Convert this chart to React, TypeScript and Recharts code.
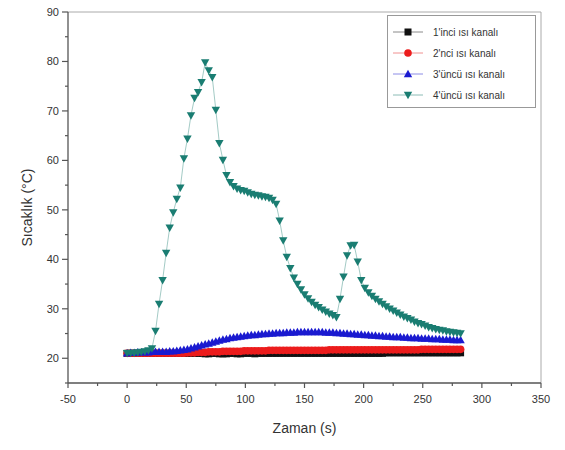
import { LineChart, Line, XAxis, YAxis, Legend, ReferenceLine } from "recharts";

// sampling instants (s)
const TIME = [
  0, 3, 6, 9, 12, 15, 18, 21, 24, 27,
  30, 33, 36, 39, 42, 45, 48, 51, 54, 57,
  60, 63, 66, 69, 72, 75, 78, 81, 84, 87,
  90, 93, 96, 99, 102, 105, 108, 111, 114, 117,
  120, 123, 126, 129, 132, 135, 138, 141, 144, 147,
  150, 153, 156, 159, 162, 165, 168, 171, 174, 177,
  180, 183, 186, 189, 192, 195, 198, 201, 204, 207,
  210, 213, 216, 219, 222, 225, 228, 231, 234, 237,
  240, 243, 246, 249, 252, 255, 258, 261, 264, 267,
  270, 273, 276, 279, 282,
];

// channel temperatures (°C)
const CH1 = [
  21.0, 21.0, 21.0, 21.0, 21.0, 21.0, 21.0, 21.0, 21.0, 21.0,
  21.0, 21.0, 21.0, 21.0, 21.0, 21.0, 21.0, 21.0, 21.0, 21.0,
  21.0, 21.0, 20.9, 20.9, 21.0, 21.0, 20.9, 20.9, 20.9, 21.0,
  21.0, 20.9, 20.9, 21.0, 21.0, 21.0, 20.9, 21.0, 21.0, 21.0,
  21.0, 21.0, 21.0, 21.0, 21.0, 21.0, 21.0, 21.0, 21.0, 21.0,
  21.0, 21.0, 21.0, 21.0, 21.0, 21.0, 21.0, 21.0, 21.0, 21.0,
  21.0, 21.0, 21.0, 21.0, 21.0, 21.0, 21.0, 21.0, 21.0, 21.0,
  21.0, 21.0, 21.0, 21.1, 21.1, 21.1, 21.1, 21.1, 21.1, 21.1,
  21.1, 21.1, 21.1, 21.1, 21.1, 21.1, 21.1, 21.1, 21.1, 21.1,
  21.1, 21.1, 21.1, 21.1, 21.1,
];

const CH2 = [
  21.0, 21.0, 21.0, 21.0, 21.0, 21.0, 21.0, 21.0, 21.0, 21.0,
  21.0, 21.0, 21.0, 21.0, 21.0, 21.0, 21.0, 21.1, 21.1, 21.1,
  21.2, 21.2, 21.2, 21.3, 21.3, 21.3, 21.3, 21.4, 21.4, 21.4,
  21.4, 21.4, 21.4, 21.5, 21.5, 21.5, 21.5, 21.5, 21.5, 21.5,
  21.6, 21.6, 21.6, 21.6, 21.6, 21.6, 21.6, 21.6, 21.6, 21.6,
  21.6, 21.6, 21.6, 21.6, 21.6, 21.6, 21.6, 21.7, 21.7, 21.7,
  21.7, 21.7, 21.7, 21.7, 21.7, 21.7, 21.7, 21.7, 21.7, 21.7,
  21.7, 21.7, 21.7, 21.7, 21.7, 21.7, 21.7, 21.7, 21.7, 21.7,
  21.7, 21.7, 21.7, 21.8, 21.8, 21.8, 21.8, 21.8, 21.8, 21.8,
  21.8, 21.8, 21.8, 21.8, 21.8,
];

const CH3 = [
  21.0, 21.1, 21.1, 21.2, 21.2, 21.2, 21.2, 21.3, 21.3, 21.3,
  21.3, 21.3, 21.4, 21.4, 21.5, 21.6, 21.7, 21.8, 22.0, 22.2,
  22.4, 22.6, 22.8, 23.0, 23.2, 23.4, 23.6, 23.8, 23.9, 24.1,
  24.2, 24.3, 24.4, 24.5, 24.6, 24.7, 24.7, 24.8, 24.9, 24.9,
  25.0, 25.0, 25.1, 25.1, 25.1, 25.2, 25.2, 25.2, 25.3, 25.3,
  25.3, 25.3, 25.3, 25.3, 25.3, 25.3, 25.2, 25.2, 25.2, 25.1,
  25.1, 25.0, 25.0, 24.9, 24.9, 24.8, 24.8, 24.7, 24.7, 24.6,
  24.6, 24.5, 24.5, 24.4, 24.4, 24.3, 24.3, 24.3, 24.2, 24.2,
  24.1, 24.1, 24.1, 24.0, 24.0, 24.0, 23.9, 23.9, 23.9, 23.8,
  23.8, 23.8, 23.7, 23.7, 23.7,
];

const CH4 = [
  21.0, 21.1, 21.1, 21.2, 21.3, 21.4, 21.6, 22.0, 25.5, 31.0,
  35.8, 41.3, 46.4, 49.5, 52.2, 54.5, 60.4, 64.4, 69.1, 72.6,
  73.8, 75.8, 79.8, 78.2, 76.8, 70.2, 63.5, 60.1, 57.0, 55.6,
  54.8, 54.3, 54.0, 53.8, 53.5, 53.2, 53.0, 52.9, 52.7, 52.6,
  52.4, 52.0, 51.2, 47.8, 43.8, 40.5, 38.2, 36.3, 35.0, 33.9,
  32.9, 32.1, 31.4, 30.8, 30.3, 29.8, 29.4, 29.0, 28.7, 28.3,
  32.0, 36.5, 40.8, 42.8, 42.9, 39.5, 35.8, 34.2, 33.3, 32.6,
  32.0, 31.5, 31.0, 30.5, 30.0, 29.6, 29.2, 28.8, 28.4, 28.1,
  27.8, 27.4, 27.1, 26.9, 26.6, 26.3, 26.1, 25.9, 25.7, 25.6,
  25.4, 25.3, 25.2, 25.1, 25.0,
];

const X_TICKS = [-50, -25, 0, 25, 50, 75, 100, 125, 150, 175, 200, 225, 250, 275, 300, 325, 350];
const Y_TICKS = [15, 20, 25, 30, 35, 40, 45, 50, 55, 60, 65, 70, 75, 80, 85, 90];

const SERIES = [
  { key: "ch1", name: "1'inci ısı kanalı", shape: "square", color: "#111111", line: "#8a8a8a" },
  { key: "ch2", name: "2'nci ısı kanalı", shape: "circle", color: "#ec1c1c", line: "#f09090" },
  { key: "ch3", name: "3'üncü ısı kanalı", shape: "up", color: "#1a1ad0", line: "#8c8ce6" },
  { key: "ch4", name: "4'üncü ısı kanalı", shape: "down", color: "#1a7d72", line: "#8cbcb6" },
];

const rows = TIME.map((t, i) => ({ t, ch1: CH1[i], ch2: CH2[i], ch3: CH3[i], ch4: CH4[i] }));

const FONT = "'Liberation Sans', Arial, sans-serif";
const AXIS = "#555";
const TEXT = "#333";

function Marker({ shape, cx, cy, fill }: { shape: string; cx: number; cy: number; fill: string }) {
  if (cx == null || cy == null) return null;
  if (shape === "square") return <rect x={cx - 3.5} y={cy - 3.5} width={7} height={7} fill={fill} />;
  if (shape === "circle") return <circle cx={cx} cy={cy} r={3.8} fill={fill} />;
  if (shape === "up")
    return <polygon points={`${cx},${cy - 4.3} ${cx - 4.2},${cy + 3.2} ${cx + 4.2},${cy + 3.2}`} fill={fill} />;
  return <polygon points={`${cx},${cy + 4.3} ${cx - 4.2},${cy - 3.2} ${cx + 4.2},${cy - 3.2}`} fill={fill} />;
}

// tick marks drawn by hand so odd ticks come out as short, unlabeled minor ticks
const XTick = (props: any) => {
  const { x, y, payload } = props;
  const major = payload.value % 50 === 0;
  return (
    <g>
      <line x1={x} y1={y} x2={x} y2={y + (major ? 5 : 3)} stroke={AXIS} strokeWidth={1.2} />
      {major && (
        <text x={x} y={y + 20} textAnchor="middle" fontSize={11} fontFamily={FONT} fill={TEXT}>
          {payload.value}
        </text>
      )}
    </g>
  );
};

const YTick = (props: any) => {
  const { x, y, payload } = props;
  const major = payload.value % 10 === 0;
  return (
    <g>
      <line x1={x} y1={y} x2={x - (major ? 6 : 3)} y2={y} stroke={AXIS} strokeWidth={1.2} />
      {major && (
        <text x={x - 9} y={y + 4} textAnchor="end" fontSize={11} fontFamily={FONT} fill={TEXT}>
          {payload.value}
        </text>
      )}
    </g>
  );
};

const LegendBox = () => (
  <svg width={150} height={94} style={{ display: "block" }}>
    <rect x={0.5} y={0.5} width={148} height={92} fill="#fff" stroke="#999" />
    {SERIES.map((s, i) => {
      const cy = 17 + i * 21;
      return (
        <g key={s.key}>
          <line x1={6} x2={36} y1={cy} y2={cy} stroke={s.line} strokeWidth={1} />
          <Marker shape={s.shape} cx={21} cy={cy} fill={s.color} />
          <text x={46} y={cy + 3.5} fontSize={10} fontFamily={FONT} fill={TEXT}>
            {s.name}
          </text>
        </g>
      );
    })}
  </svg>
);

export default function App() {
  return (
    <div style={{ position: "absolute", left: 0, top: 0, width: 565, height: 450, background: "#fff" }}>
      <LineChart width={565} height={450} data={rows} margin={{ top: 12, right: 24, bottom: 0, left: 0 }}>
        <XAxis
          dataKey="t"
          type="number"
          domain={[-50, 350]}
          ticks={X_TICKS}
          interval={0}
          tickSize={0}
          tickMargin={0}
          height={67}
          stroke={AXIS}
          strokeWidth={1.3}
          tick={<XTick />}
          label={{ value: "Zaman (s)", position: "insideBottom", offset: 17, fontSize: 14, fontFamily: FONT, fill: TEXT }}
        />
        <YAxis
          type="number"
          domain={[15, 90]}
          ticks={Y_TICKS}
          interval={0}
          tickSize={0}
          tickMargin={0}
          width={68}
          stroke={AXIS}
          strokeWidth={1.3}
          tick={<YTick />}
          label={{
            content: (p: any) => {
              const vb = p.viewBox || { x: 0, y: 12, height: 371 };
              const cx = vb.x + 27;
              const cy = vb.y + vb.height / 2 + 10;
              return (
                <text
                  x={cx}
                  y={cy}
                  transform={`rotate(-90 ${cx} ${cy})`}
                  textAnchor="middle"
                  dominantBaseline="central"
                  fontSize={14}
                  fontFamily={FONT}
                  fill={TEXT}
                >
                  Sıcaklık (°C)
                </text>
              );
            },
          }}
        />
        <ReferenceLine y={90} stroke="#aaa" strokeWidth={1} />
        <ReferenceLine x={350} stroke="#aaa" strokeWidth={1} />
        {SERIES.map((s) => (
          <Line
            key={s.key}
            dataKey={s.key}
            name={s.name}
            type="linear"
            stroke={s.line}
            strokeWidth={0.8}
            isAnimationActive={false}
            activeDot={false}
            dot={(p: any) => <Marker key={`${s.key}-${p.index}`} shape={s.shape} cx={p.cx} cy={p.cy} fill={s.color} />}
          />
        ))}
        <Legend
          layout="vertical"
          align="center"
          verticalAlign="middle"
          content={() => <LegendBox />}
          wrapperStyle={{ left: 387, top: 15, width: 150, height: 94 }}
        />
      </LineChart>
    </div>
  );
}
